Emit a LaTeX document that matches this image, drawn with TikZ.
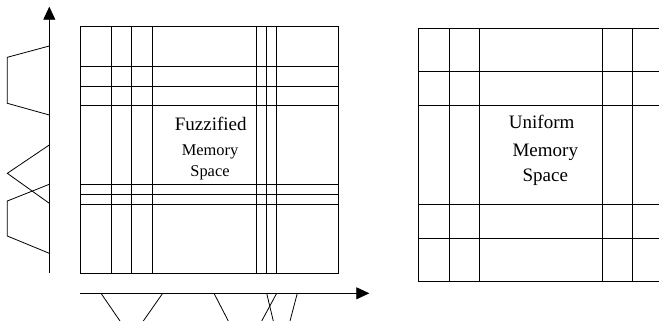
\documentclass[tikz,border=0pt]{standalone}
\usepackage{fontspec}
\setmainfont{Liberation Serif}
\usetikzlibrary{arrows.meta}

\tikzset{
    bigtxt/.style={font=\fontsize{19}{21}\selectfont,anchor=base,inner sep=0pt},
    smalltxt/.style={font=\fontsize{16.4}{18}\selectfont,anchor=base,inner sep=0pt},
    axis/.style={-{Triangle[length=13pt,width=12pt]}}
}

\begin{document}
\begin{tikzpicture}[x=1pt,y=-1pt,line width=0.8pt]
\useasboundingbox (0,0) rectangle (659,321);
\clip (0,0) rectangle (659,321);

% fuzzified space
\draw (80,26.7) rectangle (338,273.3);
\foreach \x in {111,131.7,152.3,256,266.3,276.7}
    \draw (\x,26.7) -- (\x,273.3);
\foreach \y in {66.7,86,105.7,184.3,194.3,204}
    \draw (80,\y) -- (338,\y);
\node[bigtxt] (fuz) at (210.7,130.7) {Fuzzified};
\node[smalltxt] (fmem) at (210,155.7) {Memory};
\node[smalltxt] (fspace) at (210,176.7) {Space};

% axes
\draw[axis] (49.3,273.3) -- (49.3,6.7);
\draw[axis] (80,293.3) -- (369.3,293.3);

% membership functions, vertical
\draw (49.3,46) -- (7.3,57.3) -- (7.3,103.3) -- (49.3,115);
\draw (49.3,145) -- (7.3,173.3) -- (49.3,203.3);
\draw (49.3,184.3) -- (7.3,201) -- (7.3,236) -- (49.3,253.3);
% membership functions, horizontal (cut off)
\foreach \a/\b in {101/120,162.7/143.3,214/228.3,276.7/261.7,266.7/273.3,297.3/290}
    \draw (\a,293.3) -- (\b,321);

% uniform space
\draw (418.3,28.7) rectangle (670,281.7);
\foreach \x in {449,479.3,602.3,632.3}
    \draw (\x,28.7) -- (\x,281.7);
\foreach \y in {71.7,105.7,204,238.3}
    \draw (418.3,\y) -- (670,\y);
\node[bigtxt] (uni) at (541.7,128.3) {Uniform};
\node[bigtxt] (umem) at (545.3,156.7) {Memory};
\node[bigtxt] (uspace) at (545.3,181) {Space};
\end{tikzpicture}
\end{document}
